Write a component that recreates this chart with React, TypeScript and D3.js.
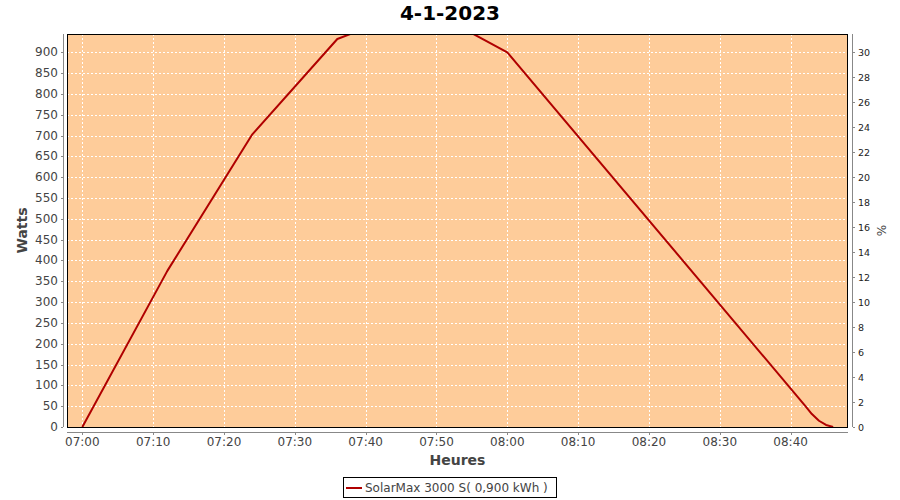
import React from "react";
import * as d3 from "d3";

const TITLE = "4-1-2023";
const times = ["07:00", "07:12", "07:24", "07:36", "07:48", "08:00", "08:42", "08:43", "08:44", "08:45", "08:46"];
const watts = [0, 375, 703, 932, 1010, 900, 52, 31, 15, 5, 0];
const yTicks = [0, 50, 100, 150, 200, 250, 300, 350, 400, 450, 500, 550, 600, 650, 700, 750, 800, 850, 900];
const pctTicks = [0, 2, 4, 6, 8, 10, 12, 14, 16, 18, 20, 22, 24, 26, 28, 30];
const xTickLabels = ["07:00", "07:10", "07:20", "07:30", "07:40", "07:50", "08:00", "08:10", "08:20", "08:30", "08:40"];
const legendLabel = "SolarMax 3000 S( 0,900 kWh )";

const toDate = (s: string, sec = 0) => {
  const [h, m] = s.split(":").map(Number);
  return new Date(2023, 0, 4, h, m, sec);
};

export default function App() {
  const W = 900, H = 500;
  const L = 67, R = 848, T = 34, B = 427;
  const x = d3.scaleTime().domain([toDate("06:57", 50), toDate("08:48", 6)]).range([L, R]);
  const y = d3.scaleLinear().domain([0, 944]).range([B, T]);
  const yr = d3.scaleLinear().domain([0, 944 / 30]).range([B, T]);
  const data = times.map((t, i) => ({ t: toDate(t), v: watts[i] }));
  const line = d3.line<{ t: Date; v: number }>().x(d => x(d.t)).y(d => y(d.v));
  const font = "'DejaVu Sans', sans-serif";
  const axisCol = "#888";
  const txt = "#444";

  return (
    <svg width={W} height={H} style={{ position: "absolute", left: 0, top: 0, background: "#fff" }}>
      <defs>
        <clipPath id="plot">
          <rect x={L} y={T} width={R - L} height={B - T} />
        </clipPath>
      </defs>
      <text x={450} y={20} textAnchor="middle" fontFamily={font} fontWeight="bold" fontSize={20} fill="#000">{TITLE}</text>
      <rect x={L} y={T} width={R - L} height={B - T} fill="#FECC9A" />
      {yTicks.map(v => (
        <line key={"gy" + v} x1={L} x2={R} y1={Math.round(y(v)) + 0.5} y2={Math.round(y(v)) + 0.5} stroke="#fff" strokeDasharray="2,2" />
      ))}
      {xTickLabels.map(t => (
        <line key={"gx" + t} x1={Math.round(x(toDate(t))) + 0.5} x2={Math.round(x(toDate(t))) + 0.5} y1={T} y2={B} stroke="#fff" strokeDasharray="2,2" />
      ))}
      <path d={line(data) || ""} fill="none" stroke="#B00000" strokeWidth={2} clipPath="url(#plot)" strokeLinejoin="round" />
      <rect x={L + 0.5} y={T + 0.5} width={R - L - 1} height={B - T} fill="none" stroke="#000" strokeWidth={1} />
      {/* left axis */}
      <line x1={63.5} x2={63.5} y1={T} y2={B} stroke={axisCol} />
      {yTicks.map(v => (
        <g key={"ly" + v}>
          <line x1={61} x2={63} y1={Math.round(y(v)) + 0.5} y2={Math.round(y(v)) + 0.5} stroke={axisCol} />
          <text x={58} y={y(v) + 4} textAnchor="end" fontFamily={font} fontSize={12} fill={txt}>{v}</text>
        </g>
      ))}
      <text transform={`translate(27,${(T + B) / 2}) rotate(-90)`} textAnchor="middle" fontFamily={font} fontWeight="bold" fontSize={14} fill={txt}>Watts</text>
      {/* right axis */}
      <line x1={852.5} x2={852.5} y1={T} y2={B} stroke={axisCol} />
      {pctTicks.map(v => (
        <g key={"ry" + v}>
          <line x1={853} x2={855} y1={Math.round(yr(v)) + 0.5} y2={Math.round(yr(v)) + 0.5} stroke={axisCol} />
          <text x={858} y={yr(v) + 3.5} textAnchor="start" fontFamily={font} fontSize={9.5} fill="#222">{v}</text>
        </g>
      ))}
      <text transform={`translate(886,${(T + B) / 2}) rotate(-90)`} textAnchor="middle" fontFamily={font} fontSize={12} fill={txt}>%</text>
      {/* bottom axis */}
      <line x1={L} x2={R} y1={432.5} y2={432.5} stroke={axisCol} />
      {xTickLabels.map(t => (
        <g key={"bx" + t}>
          <line x1={Math.round(x(toDate(t))) + 0.5} x2={Math.round(x(toDate(t))) + 0.5} y1={433} y2={435} stroke={axisCol} />
          <text x={x(toDate(t))} y={446} textAnchor="middle" fontFamily={font} fontSize={12} fill={txt}>{t}</text>
        </g>
      ))}
      <text x={(L + R) / 2} y={465} textAnchor="middle" fontFamily={font} fontWeight="bold" fontSize={14} fill={txt}>Heures</text>
      {/* legend */}
      <rect x={343.5} y={477.5} width={213} height={20} fill="#fff" stroke="#000" />
      <line x1={346} x2={362} y1={488} y2={488} stroke="#B00000" strokeWidth={2} />
      <text x={365} y={492} fontFamily={font} fontSize={12} fill={txt}>{legendLabel}</text>
    </svg>
  );
}
